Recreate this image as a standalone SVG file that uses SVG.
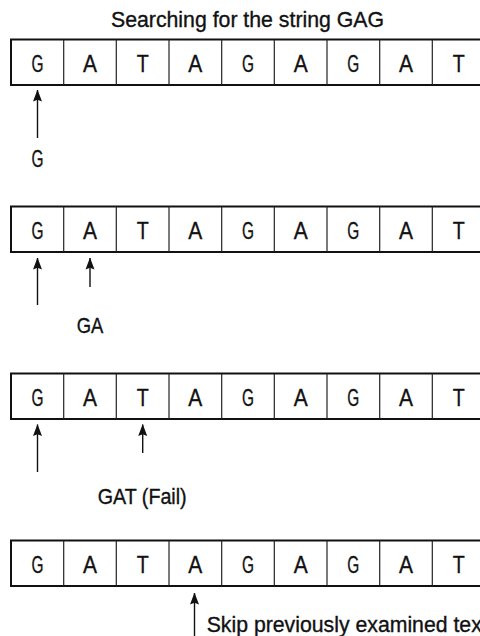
<svg xmlns="http://www.w3.org/2000/svg" width="480" height="636" viewBox="0 0 480 636">
<style>
  text { font-family: "Liberation Sans", Arial, sans-serif; fill: #111; stroke: #111; stroke-width: 0.35; }
  .t { font-size: 22px; }
  .c { font-size: 23.5px; text-anchor: middle; }
  .box { fill: #fff; stroke: #111; stroke-width: 2; }
  .div { stroke: #222; stroke-width: 1.2; }
  .arr { stroke: #111; stroke-width: 1.4; fill: none; marker-end: url(#ah); }
</style>
<defs>
  <marker id="ah" viewBox="0 0 12 10" refX="11.5" refY="5" markerWidth="12" markerHeight="10" markerUnits="userSpaceOnUse" orient="auto">
    <path d="M12,5 L0,0.5 L1.8,5 L0,9.5 Z" fill="#111"/>
  </marker>
  <g id="cells">
    <rect class="box" x="11" y="0" width="474" height="45.5"/>
    <line class="div" x1="63.7" y1="0" x2="63.7" y2="45.5"/>
    <line class="div" x1="116.3" y1="0" x2="116.3" y2="45.5"/>
    <line class="div" x1="169" y1="0" x2="169" y2="45.5"/>
    <line class="div" x1="221.7" y1="0" x2="221.7" y2="45.5"/>
    <line class="div" x1="274.3" y1="0" x2="274.3" y2="45.5"/>
    <line class="div" x1="327" y1="0" x2="327" y2="45.5"/>
    <line class="div" x1="379.7" y1="0" x2="379.7" y2="45.5"/>
    <line class="div" x1="432.3" y1="0" x2="432.3" y2="45.5"/>
    <text class="c" x="37.5" y="32" textLength="12" lengthAdjust="spacingAndGlyphs">G</text>
    <text class="c" x="90" y="32" textLength="14" lengthAdjust="spacingAndGlyphs">A</text>
    <text class="c" x="142.7" y="32" textLength="12" lengthAdjust="spacingAndGlyphs">T</text>
    <text class="c" x="195.3" y="32" textLength="14" lengthAdjust="spacingAndGlyphs">A</text>
    <text class="c" x="248" y="32" textLength="12" lengthAdjust="spacingAndGlyphs">G</text>
    <text class="c" x="300.7" y="32" textLength="14" lengthAdjust="spacingAndGlyphs">A</text>
    <text class="c" x="353.3" y="32" textLength="12" lengthAdjust="spacingAndGlyphs">G</text>
    <text class="c" x="406" y="32" textLength="14" lengthAdjust="spacingAndGlyphs">A</text>
    <text class="c" x="458.7" y="32" textLength="12" lengthAdjust="spacingAndGlyphs">T</text>
  </g>
</defs>
<g id="title">
  <text class="t" x="111" y="27" textLength="273" lengthAdjust="spacingAndGlyphs">Searching for the string GAG</text>
</g>
<g id="row1"><use href="#cells" x="0" y="39.5"/></g>
<g id="row2"><use href="#cells" x="0" y="206.5"/></g>
<g id="row3"><use href="#cells" x="0" y="373.5"/></g>
<g id="row4"><use href="#cells" x="0" y="540.5"/></g>
<g id="connectors">
  <line class="arr" x1="37.5" y1="138" x2="37.5" y2="90"/>
  <line class="arr" x1="37.5" y1="305" x2="37.5" y2="258"/>
  <line class="arr" x1="90" y1="287" x2="90" y2="258"/>
  <line class="arr" x1="37.5" y1="472" x2="37.5" y2="424.5"/>
  <line class="arr" x1="142.7" y1="453" x2="142.7" y2="424.5"/>
  <line class="arr" x1="194.5" y1="640" x2="194.5" y2="593"/>
</g>
<g id="labels">
  <text class="t" x="37.5" y="167" text-anchor="middle" textLength="12" lengthAdjust="spacingAndGlyphs" style="font-size:23.5px">G</text>
  <text class="t" x="76.7" y="333" textLength="26.6" lengthAdjust="spacingAndGlyphs">GA</text>
  <text class="t" x="97.7" y="504" textLength="89" lengthAdjust="spacingAndGlyphs">GAT (Fail)</text>
  <text class="t" x="206.7" y="631.5" textLength="281" lengthAdjust="spacingAndGlyphs">Skip previously examined text</text>
</g>
</svg>
